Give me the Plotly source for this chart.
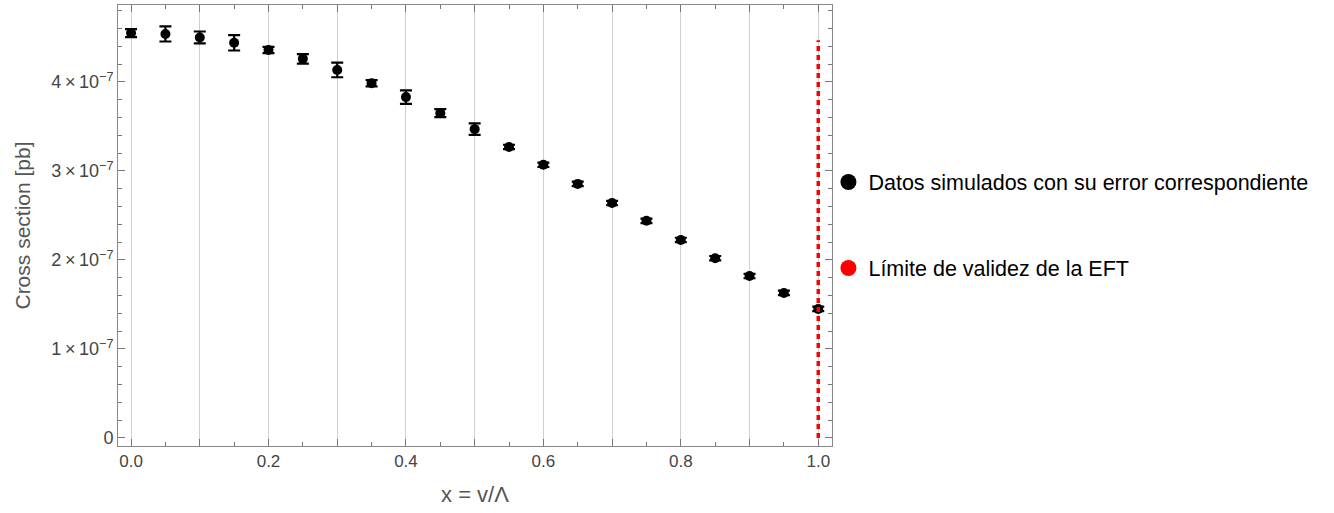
import plotly.graph_objects as go

x_vals = [0.0, 0.05, 0.1, 0.15, 0.2, 0.25, 0.3, 0.35, 0.4, 0.45, 0.5,
          0.55, 0.6, 0.65, 0.7, 0.75, 0.8, 0.85, 0.9, 0.95, 1.0]
sigma = [4.55, 4.54, 4.50, 4.44, 4.36, 4.26, 4.135, 3.985, 3.83, 3.65, 3.47,
         3.27, 3.07, 2.855, 2.64, 2.44, 2.225, 2.02, 1.82, 1.63, 1.45]
sigma_err = [0.045, 0.085, 0.067, 0.086, 0.035, 0.054, 0.082, 0.035, 0.075, 0.045, 0.065,
             0.025, 0.025, 0.025, 0.025, 0.025, 0.025, 0.025, 0.025, 0.025, 0.025]
scale = 1e-7
y_vals = [s * scale for s in sigma]
y_errs = [e * scale for e in sigma_err]

eft_limit_x = 1.0
eft_line_top = 4.47e-7

legend_labels = ["Datos simulados con su error correspondiente", "Límite de validez de la EFT"]

y_tickvals = [0, 1e-7, 2e-7, 3e-7, 4e-7]
y_ticktext = ["0"] + [f"{k}\u2009×\u200910<sup>−7</sup>" for k in range(1, 5)]
x_tickvals = [round(0.1 * i, 1) for i in range(11)]
x_ticktext = [f"{v:.1f}" if i % 2 == 0 else "" for i, v in enumerate(x_tickvals)]

fig = go.Figure()

fig.add_trace(go.Scatter(
    x=x_vals, y=y_vals, mode="markers",
    marker=dict(color="black", size=10),
    error_y=dict(type="data", array=y_errs, visible=True, color="black", thickness=2.2, width=6),
    showlegend=False, hoverinfo="x+y"))

fig.add_trace(go.Scatter(
    x=[eft_limit_x, eft_limit_x], y=[0, eft_line_top], mode="lines",
    line=dict(color="red", width=3.5, dash="5px,4px"),
    showlegend=False))

# legend entries (marker-only)
fig.add_trace(go.Scatter(x=[None], y=[None], mode="markers",
                         marker=dict(color="black", size=16),
                         name=legend_labels[0], legendgroup="a"))
fig.add_trace(go.Scatter(x=[None], y=[None], mode="markers",
                         marker=dict(color="red", size=16),
                         name=legend_labels[1], legendgroup="b"))

x_tick_font = dict(family="Liberation Sans, Arial, sans-serif", size=17, color="#444")
y_tick_font = dict(family="Liberation Sans, Arial, sans-serif", size=18, color="#444")

fig.update_layout(
    width=1334, height=513,
    margin=dict(l=118, r=502, t=5, b=67, autoexpand=False),
    plot_bgcolor="white", paper_bgcolor="white",
    font=dict(family="Liberation Sans, Arial, sans-serif"),
    legend=dict(x=0.995, y=0.645, xanchor="left", yanchor="top",
                font=dict(size=21.5, color="black"),
                tracegroupgap=55, traceorder="grouped",
                itemsizing="trace", bgcolor="rgba(0,0,0,0)"),
)

fig.update_xaxes(
    range=[-0.019, 1.02],
    tickmode="array", tickvals=x_tickvals, ticktext=x_ticktext,
    ticks="inside", ticklen=7, tickcolor="#777", tickwidth=1,
    minor=dict(ticks="inside", dtick=0.05, ticklen=4, tickcolor="#777", showgrid=False),
    showgrid=True, gridcolor="#d0d0d0", gridwidth=1,
    showline=True, linecolor="#888", linewidth=1, mirror="ticks",
    zeroline=False, tickfont=x_tick_font, automargin=False,
    title=dict(text="x = v/Λ", font=dict(size=22, color="#555"), standoff=16),
)

fig.update_yaxes(
    range=[-0.09e-7, 4.865e-7],
    tickmode="array", tickvals=y_tickvals, ticktext=y_ticktext,
    ticks="inside", ticklen=7, tickcolor="#777", tickwidth=1,
    minor=dict(ticks="inside", dtick=0.2e-7, ticklen=4, tickcolor="#777", showgrid=False),
    showgrid=False,
    showline=True, linecolor="#888", linewidth=1, mirror="ticks",
    zeroline=False, tickfont=y_tick_font, automargin=False,
    title=dict(text="Cross section [pb]", font=dict(size=21, color="#555"), standoff=14),
)

fig.write_html("out.html", config={"displayModeBar": False},
               post_script="document.body.style.margin='0';document.body.style.padding='0';")
